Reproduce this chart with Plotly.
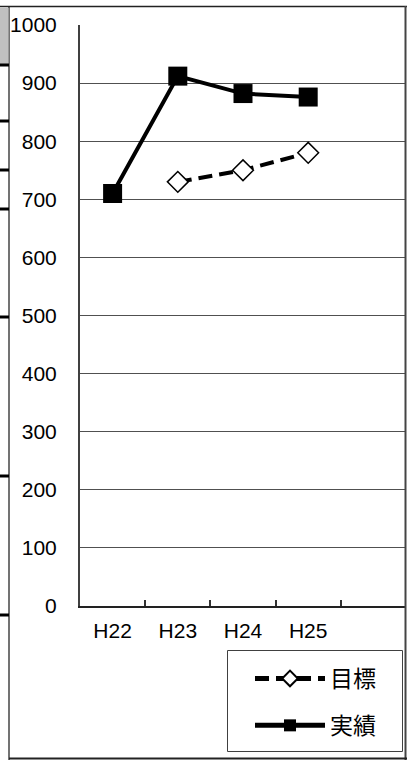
import plotly.graph_objects as go

# ---- data ----
categories = ["H22", "H23", "H24", "H25"]
target_x = ["H23", "H24", "H25"]
target_vals = [730, 750, 780]
actual_vals = [710, 912, 882, 876]
y_ticks = [0, 100, 200, 300, 400, 500, 600, 700, 800, 900, 1000]
series_names = ["目標", "実績"]

W, H = 407, 760
L, R, T, B = 80, 406, 25, 606  # plot area in pixels


def px(x):
    return (x - L) / (R - L)


def py(y):
    return (B - y) / (B - T)


fig = go.Figure()
fig.add_trace(go.Scatter(
    x=target_x, y=target_vals, name=series_names[0], mode="lines+markers",
    legendgroup="a",
    line=dict(color="black", width=4, dash="14px,7px"),
    marker=dict(symbol="diamond", size=16, color="white",
                line=dict(color="black", width=1.5)),
))
fig.add_trace(go.Scatter(
    x=categories, y=actual_vals, name=series_names[1], mode="lines+markers",
    legendgroup="b",
    line=dict(color="black", width=4),
    marker=dict(symbol="square", size=19, color="black"),
))

shapes = []
# legend box
shapes.append(dict(type="rect", xref="paper", yref="paper",
                   x0=px(227.5), x1=px(402.5), y0=py(751.5), y1=py(650.5),
                   line=dict(color="#404040", width=1), fillcolor="rgba(0,0,0,0)"))
# outer frame fragments (surrounding document)
frame_col = "#222"
shapes += [
    dict(type="line", xref="paper", yref="paper", x0=px(9), x1=px(9), y0=py(6), y1=py(760),
         line=dict(color="#444", width=1.5)),
    dict(type="line", xref="paper", yref="paper", x0=px(0), x1=px(407), y0=py(6.5), y1=py(6.5),
         line=dict(color=frame_col, width=1.5)),
    dict(type="line", xref="paper", yref="paper", x0=px(405.5), x1=px(405.5), y0=py(6), y1=py(760),
         line=dict(color="#444", width=2)),
    dict(type="line", xref="paper", yref="paper", x0=px(9), x1=px(407), y0=py(758.5), y1=py(758.5),
         line=dict(color=frame_col, width=2)),
    dict(type="rect", xref="paper", yref="paper", x0=px(0), x1=px(8.5), y0=py(64), y1=py(8),
         line=dict(width=0), fillcolor="#c0c0c0"),
]
for yy in [65, 121, 170, 209, 317, 476, 615]:
    shapes.append(dict(type="line", xref="paper", yref="paper", x0=px(0), x1=px(9),
                       y0=py(yy), y1=py(yy), line=dict(color="black", width=3)))

fig.update_layout(
    width=W, height=H,
    margin=dict(l=L, r=W - R, t=T, b=H - B),
    paper_bgcolor="white", plot_bgcolor="white",
    font=dict(family="Liberation Sans, Arial, sans-serif", size=21, color="black"),
    showlegend=True,
    legend=dict(
        x=px(250), xanchor="left", y=py(657), yanchor="top",
        bgcolor="rgba(0,0,0,0)", borderwidth=0,
        font=dict(family="Noto Sans CJK JP, sans-serif", size=23, color="black"),
        itemwidth=70, tracegroupgap=14, itemsizing="constant",
    ),
    shapes=shapes,
    xaxis=dict(
        type="category", categoryorder="array", categoryarray=categories + [" "],
        range=[-0.5, 4.5], tickson="boundaries", ticks="inside", ticklen=6,
        tickcolor="#333", tickwidth=1.5,
        showline=True, linecolor="#222", linewidth=2, showgrid=False,
        tickfont=dict(size=21), ticklabelstandoff=5, zeroline=False,
    ),
    yaxis=dict(
        range=[0, 1000], tickvals=y_ticks, ticks="", showgrid=True,
        gridcolor="#505050", gridwidth=1, showline=True, linecolor="#404040",
        linewidth=2, zeroline=False, tickfont=dict(size=21), ticklabelstandoff=17,
    ),
)

fig.write_html("out.html")
